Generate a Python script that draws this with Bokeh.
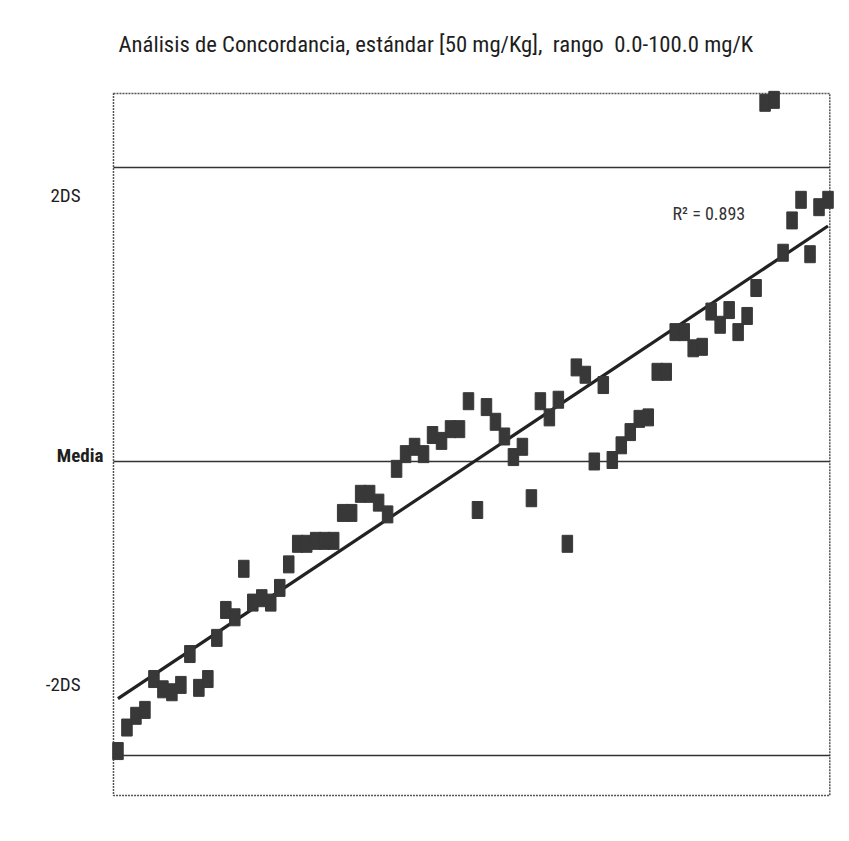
import numpy as np
from bokeh.plotting import figure
from bokeh.models import Label
from bokeh.embed import file_html
from bokeh.resources import INLINE

# sample index (1..80) and deviation from the mean in SD units
sample = list(range(1, 81))
desv = [-1.97, -1.81, -1.73, -1.69, -1.48, -1.55, -1.57, -1.52, -1.31, -1.54,
        -1.48, -1.20, -1.01, -1.06, -0.73, -0.96, -0.93, -0.96, -0.86, -0.70,
        -0.56, -0.56, -0.54, -0.54, -0.54, -0.35, -0.35, -0.22, -0.22, -0.28,
        -0.36, -0.05, 0.05, 0.10, 0.05, 0.18, 0.14, 0.22, 0.22, 0.41,
        -0.33, 0.37, 0.27, 0.17, 0.03, 0.10, -0.25, 0.41, 0.30, 0.42,
        -0.56, 0.64, 0.59, 0.00, 0.52, 0.01, 0.11, 0.20, 0.29, 0.30,
        0.61, 0.61, 0.88, 0.88, 0.77, 0.78, 1.02, 0.93, 1.03, 0.88,
        0.99, 1.18, 2.44, 2.46, 1.42, 1.64, 1.78, 1.41, 1.73, 1.78]

ref_levels = [2.0, 0.0, -2.0]
ref_labels = ["2DS", "Media", "-2DS"]
r2_text = "R\u00b2 = 0.893"
title_text = ("An\u00e1lisis de Concordancia, est\u00e1ndar [50 mg/Kg],\u00a0 "
              "rango\u00a0 0.0-100.0 mg/K")

# plotting box (data units)
box_x = (0.5, 80.2)
box_y = (-2.272, 2.503)

FONT = "Roboto Condensed"

p = figure(width=840, height=832, output_backend="svg", toolbar_location=None,
           x_range=(-12.07, 81.39), y_range=(-2.524, 3.136),
           x_axis_location=None, y_axis_location=None,
           min_border=0)
p.grid.visible = False
p.outline_line_color = None
p.background_fill_color = "white"
p.border_fill_color = "white"

# box around the plotting area
p.quad(left=[box_x[0]], right=[box_x[1]], bottom=[box_y[0]], top=[box_y[1]],
       fill_color=None, line_color="#555555", line_width=1.5, line_dash="2 1")

# reference lines (+2SD, mean, -2SD)
p.segment(x0=[box_x[0]] * 3, x1=[box_x[1]] * 3, y0=ref_levels, y1=ref_levels,
          line_color="#333333", line_width=1.5)

# trend line from least squares fit
xs = np.array(sample, dtype=float)
ys = np.array(desv)
m, b = np.polyfit(xs, ys, 1)
xl = np.array([1.0, 80.0])
p.line(xl, m * xl + b, line_color="#222222", line_width=3.2)

p.rect(sample, desv, width=10.5, height=17, width_units="screen", height_units="screen",
       fill_color="#383838", line_color="#383838")

# texts
p.add_layout(Label(x=1.06, y=2.837, text=title_text, text_font=FONT,
                   text_font_size="22.7px", text_color="#1e1e1e",
                   text_align="left", text_baseline="middle"))
lab_x = [-3.17, -0.61, -3.17]
lab_y = [1.81, 0.04, -1.52]
for lx, ly, t in zip(lab_x, lab_y, ref_labels):
    p.add_layout(Label(x=lx, y=ly, text=t, text_font=FONT, text_font_size="19px",
                       text_color="#1e1e1e", text_align="right", text_baseline="middle",
                       text_font_style="bold" if t == "Media" else "normal"))
p.add_layout(Label(x=62.7, y=1.69, text=r2_text, text_font=FONT, text_font_size="18px",
                   text_color="#333333", text_align="left", text_baseline="middle"))

open("out.html", "w").write(file_html(p, INLINE))
